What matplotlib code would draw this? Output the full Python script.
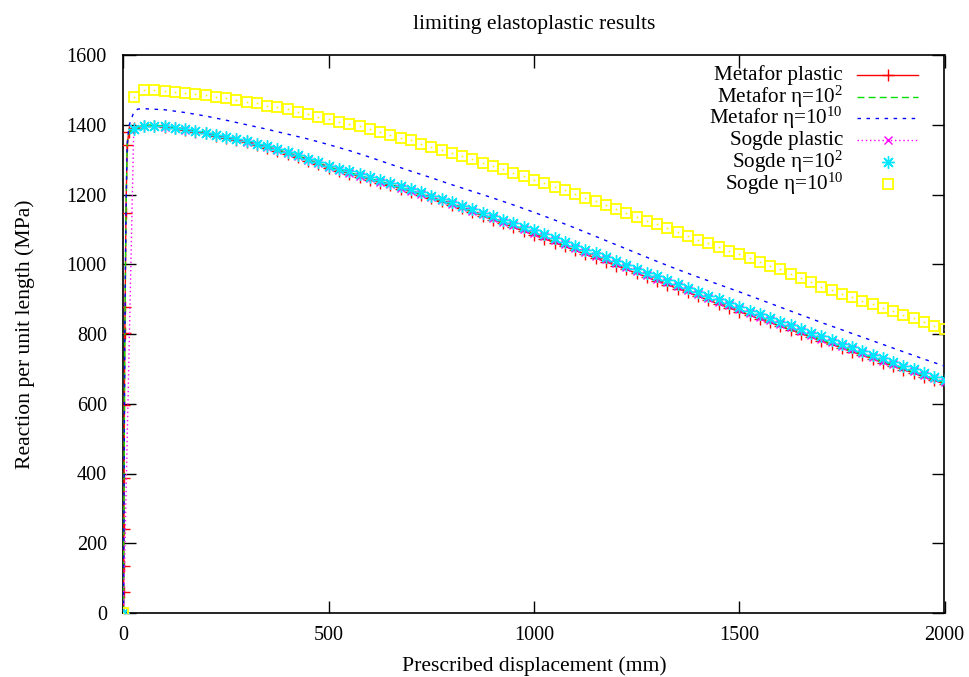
import numpy as np
import matplotlib
matplotlib.use("Agg")
import matplotlib.pyplot as plt
from matplotlib.lines import Line2D

plt.rcParams["font.family"] = ["Liberation Serif", "DejaVu Serif"]
plt.rcParams["mathtext.fontset"] = "custom"
plt.rcParams["mathtext.rm"] = "Liberation Serif"
plt.rcParams["mathtext.it"] = "Liberation Serif:italic"

# ---- data -------------------------------------------------------------
# loading ramp of the Metafor runs (fine steps in the elastic part)
metafor_ramp_x = [0, 0.3, 0.6, 1.0, 1.5, 2.2, 3.2, 4.0, 6.0, 9.0, 13.0]
metafor_ramp_y = [0, 60, 135, 241, 387, 596, 803, 877, 1147, 1342, 1380]
metafor_stiff_ramp_x = [0, 0.6, 1.5, 3.2, 6.0, 9.0, 13.0, 18.0, 25.0, 35.0]
metafor_stiff_ramp_y = [0, 135, 387, 803, 1147, 1342, 1395, 1413, 1436, 1445]

# displacement steps of 25 mm (markers) and 50 mm (plain lines)
x_fine = np.arange(25, 2001, 25)
x_coarse = np.arange(50, 2001, 50)

metafor_plastic = [
    1390, 1397, 1396, 1394, 1390, 1385, 1380, 1375, 1369, 1363, 1357, 1350,
    1342, 1334, 1326, 1317, 1307, 1297, 1287, 1276, 1268, 1260, 1251, 1243,
    1234, 1226, 1217, 1208, 1199, 1189, 1180, 1170, 1160, 1149, 1139, 1128,
    1117, 1106, 1095, 1084, 1073, 1062, 1051, 1040, 1029, 1018, 1007, 996,
    985, 974, 963, 952, 941, 930, 919, 908, 897, 886, 875, 864,
    854, 843, 833, 822, 812, 801, 791, 780, 770, 760, 749, 739,
    729, 718, 708, 698, 688, 677, 667, 657]

metafor_eta2 = [
    1400, 1397, 1388, 1378, 1366, 1353, 1337, 1320, 1300, 1279,
    1263, 1246, 1229, 1211, 1192, 1173, 1152, 1131, 1109, 1087,
    1065, 1043, 1021, 999, 977, 955, 933, 911, 889, 867,
    846, 825, 804, 783, 763, 742, 721, 701, 680, 660]

metafor_eta10 = [
    1446, 1443, 1435, 1425, 1413, 1400, 1387, 1373, 1359, 1343,
    1326, 1307, 1287, 1267, 1248, 1228, 1209, 1190, 1170, 1149,
    1127, 1104, 1080, 1056, 1032, 1008, 985, 963, 942, 921,
    899, 877, 855, 833, 812, 791, 770, 749, 728, 708]

sogde_plastic = [
    1389, 1397, 1396, 1394, 1391, 1386, 1381, 1376, 1370, 1364, 1358, 1351,
    1344, 1336, 1328, 1319, 1309, 1299, 1289, 1279, 1271, 1263, 1254, 1246,
    1237, 1229, 1220, 1211, 1202, 1193, 1184, 1174, 1164, 1153, 1143, 1133,
    1122, 1112, 1101, 1091, 1080, 1069, 1058, 1047, 1036, 1025, 1014, 1003,
    992, 981, 970, 959, 948, 937, 926, 915, 904, 893, 882, 871,
    861, 850, 840, 829, 819, 808, 798, 787, 777, 766, 756, 745,
    735, 724, 714, 704, 694, 683, 673, 663]

sogde_eta2 = [
    1388, 1397, 1397, 1395, 1392, 1387, 1382, 1377, 1372, 1366, 1360, 1353,
    1346, 1338, 1330, 1321, 1312, 1302, 1292, 1282, 1274, 1266, 1258, 1250,
    1241, 1233, 1224, 1215, 1206, 1197, 1188, 1178, 1168, 1158, 1148, 1138,
    1128, 1118, 1108, 1097, 1086, 1075, 1064, 1053, 1042, 1031, 1020, 1009,
    998, 987, 976, 965, 954, 943, 932, 921, 910, 899, 888, 877,
    867, 856, 846, 835, 825, 814, 804, 793, 783, 772, 762, 751,
    741, 730, 720, 709, 699, 688, 678, 668]

sogde_eta10 = [
    1480, 1500, 1500, 1498, 1495, 1492, 1488, 1485, 1480, 1476, 1471, 1466,
    1461, 1455, 1450, 1444, 1437, 1430, 1423, 1416, 1409, 1402, 1395, 1388,
    1380, 1372, 1363, 1355, 1346, 1337, 1328, 1319, 1310, 1301, 1291, 1282,
    1272, 1263, 1253, 1243, 1233, 1222, 1212, 1201, 1190, 1180, 1169, 1158,
    1147, 1136, 1125, 1114, 1103, 1092, 1081, 1070, 1060, 1050, 1039, 1029,
    1018, 1007, 996, 985, 973, 961, 948, 936, 926, 916, 905, 895,
    885, 875, 865, 855, 845, 834, 824, 814]

labels = ["Metafor plastic", r"Metafor η=10$^{2}$", r"Metafor η=10$^{10}$",
          "Sogde plastic", r"Sogde η=10$^{2}$", r"Sogde η=10$^{10}$"]

# ---- figure -----------------------------------------------------------
W, H = 970, 677
fig = plt.figure(figsize=(W / 100, H / 100), dpi=100)
ax = fig.add_axes([123.5 / W, 1 - 613 / H, 821 / W, 558 / H])

red, green, blue = "#ff0000", "#00e000", "#0000ff"
magenta, cyan, yellow = "#ff00ff", "#00e8ff", "#ffff00"

mx = list(metafor_ramp_x) + list(x_fine)
my = list(metafor_ramp_y) + list(metafor_plastic)
ax.plot(mx, my, color=red, lw=1.0, marker="+", ms=8, mew=1.0, zorder=3)

gx = list(metafor_ramp_x) + list(x_coarse)
gy = list(metafor_ramp_y) + list(metafor_eta2)
ax.plot(gx, gy, color=green, lw=1.0, dashes=(5, 3), zorder=3)

bx = list(metafor_stiff_ramp_x) + list(x_coarse)
by = list(metafor_stiff_ramp_y) + list(metafor_eta10)
ax.plot(bx, by, color=blue, lw=1.0, dashes=(2.5, 4), zorder=3)

sx = [0] + list(x_fine)
ax.plot(sx, [0] + sogde_plastic, color=magenta, lw=1.0, dashes=(1, 2),
        marker="x", ms=6, mew=1.0, zorder=4)
ax.plot(sx, [0] + sogde_eta2, ls="none", color=cyan, marker=(8, 2, 0),
        ms=9, mew=1.0, zorder=5)
ax.plot(sx, [0] + sogde_eta10, ls="none", color=yellow, marker="s",
        ms=7.5, mfc="none", mew=1.3, zorder=6)
ax.plot(sx, [0] + sogde_eta10, ls="none", color=yellow, marker="s",
        ms=1.2, mew=0, zorder=6)

ax.set_xlim(0, 2000)
ax.set_ylim(0, 1600)
ax.set_xticks([0, 500, 1000, 1500, 2000])
ax.set_yticks(np.arange(0, 1601, 200))
ax.tick_params(direction="in", length=9, width=1.0, top=True, right=True,
               labelsize=14.5, colors="black")
ax.tick_params(axis="y", pad=12)
ax.tick_params(axis="x", pad=9)
for s in ax.spines.values():
    s.set_linewidth(1.2)

ax.set_title("limiting elastoplastic results", fontsize=15.6, pad=19)
ax.set_xlabel("Prescribed displacement (mm)", fontsize=15.6)
ax.set_ylabel("Reaction per unit length (MPa)", fontsize=15.6)
ax.xaxis.set_label_coords(0.5, -0.078)
ax.yaxis.set_label_coords(-0.108, 0.5)

# ---- key (text right-aligned, sample on the right) --------------------
def fx(px):
    return px / W

def fy(py):
    return 1 - py / H

rows_y = [75, 97, 118, 140, 162, 184]
styles = [
    dict(color=red, lw=1.0, marker="+", ms=8, mew=1.0),
    dict(color=green, lw=1.0, dashes=(5, 3)),
    dict(color=blue, lw=1.0, dashes=(2.5, 4)),
    dict(color=magenta, lw=1.0, dashes=(1, 2), marker="x", ms=6, mew=1.0),
    dict(color=cyan, ls="none", marker=(8, 2, 0), ms=9, mew=1.0),
    dict(color=yellow, ls="none", marker="s", ms=7.5, mfc="none", mew=1.3),
]
for lab, py, st in zip(labels, rows_y, styles):
    fig.text(fx(843), fy(py), lab, ha="right", va="center", fontsize=15.2)
    if st.get("ls") != "none":
        base = {k: v for k, v in st.items() if k not in ("marker", "ms", "mew")}
        fig.add_artist(Line2D([fx(857), fx(918)], [fy(py), fy(py)], **base))
    if "marker" in st:
        mk = {k: v for k, v in st.items() if k not in ("lw", "dashes", "ls")}
        fig.add_artist(Line2D([fx(888)], [fy(py)], ls="none", **mk))

fig.savefig("out.png", dpi=100)
